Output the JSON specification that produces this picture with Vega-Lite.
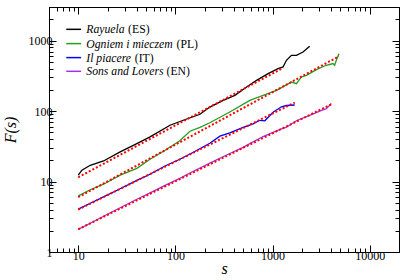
{
  "$schema": "https://vega.github.io/schema/vega-lite/v6.json",
  "width": 350,
  "height": 245,
  "autosize": "none",
  "padding": {"left": 49, "top": 7, "right": 8, "bottom": 28},
  "background": "white",
  "config": {
    "view": {"stroke": "black", "strokeWidth": 1},
    "axis": {
      "domainColor": "black",
      "tickColor": "black",
      "labelColor": "black",
      "titleColor": "black",
      "labelFont": "Liberation Serif",
      "titleFont": "Liberation Serif",
      "labelFontSize": 12,
      "titleFontSize": 16,
      "titleFontStyle": "italic",
      "titleFontWeight": "normal",
      "grid": false,
      "labelOverlap": false,
      "labelBound": false,
      "labelFlush": false
    }
  },
  "datasets": {
    "curves": [
      {"book": "Rayuela", "s": 10, "F": 12.3},
      {"book": "Rayuela", "s": 10.9, "F": 14.5},
      {"book": "Rayuela", "s": 13.3, "F": 17.0},
      {"book": "Rayuela", "s": 18.2, "F": 19.6},
      {"book": "Rayuela", "s": 27.0, "F": 26.3},
      {"book": "Rayuela", "s": 40.1, "F": 34.6},
      {"book": "Rayuela", "s": 54.8, "F": 43.0},
      {"book": "Rayuela", "s": 88.0, "F": 62.9},
      {"book": "Rayuela", "s": 120.6, "F": 74.1},
      {"book": "Rayuela", "s": 179, "F": 90.1},
      {"book": "Rayuela", "s": 226, "F": 114},
      {"book": "Rayuela", "s": 310, "F": 142},
      {"book": "Rayuela", "s": 409, "F": 167},
      {"book": "Rayuela", "s": 540, "F": 220},
      {"book": "Rayuela", "s": 684, "F": 273},
      {"book": "Rayuela", "s": 900, "F": 340},
      {"book": "Rayuela", "s": 1138, "F": 401},
      {"book": "Rayuela", "s": 1282, "F": 423},
      {"book": "Rayuela", "s": 1389, "F": 526},
      {"book": "Rayuela", "s": 1564, "F": 619},
      {"book": "Rayuela", "s": 1759, "F": 619},
      {"book": "Rayuela", "s": 2056, "F": 689},
      {"book": "Rayuela", "s": 2410, "F": 830},
      {"book": "Ogniem", "s": 10, "F": 6.25},
      {"book": "Ogniem", "s": 13.3, "F": 7.65},
      {"book": "Ogniem", "s": 18.2, "F": 9.16},
      {"book": "Ogniem", "s": 27.0, "F": 12.3},
      {"book": "Ogniem", "s": 40.1, "F": 15.4},
      {"book": "Ogniem", "s": 54.8, "F": 20.7},
      {"book": "Ogniem", "s": 78.2, "F": 27.8},
      {"book": "Ogniem", "s": 111, "F": 37.9},
      {"book": "Ogniem", "s": 141, "F": 51.7},
      {"book": "Ogniem", "s": 179, "F": 58.9},
      {"book": "Ogniem", "s": 226, "F": 68.2},
      {"book": "Ogniem", "s": 363, "F": 97.1},
      {"book": "Ogniem", "s": 583, "F": 142},
      {"book": "Ogniem", "s": 799, "F": 167},
      {"book": "Ogniem", "s": 1096, "F": 197},
      {"book": "Ogniem", "s": 1564, "F": 258},
      {"book": "Ogniem", "s": 1759, "F": 245},
      {"book": "Ogniem", "s": 1981, "F": 305},
      {"book": "Ogniem", "s": 2230, "F": 322},
      {"book": "Ogniem", "s": 2823, "F": 388},
      {"book": "Ogniem", "s": 3575, "F": 447},
      {"book": "Ogniem", "s": 4180, "F": 472},
      {"book": "Ogniem", "s": 4350, "F": 447},
      {"book": "Ogniem", "s": 4530, "F": 526},
      {"book": "Ogniem", "s": 4820, "F": 650},
      {"book": "Piacere", "s": 10, "F": 4.05},
      {"book": "Piacere", "s": 13.3, "F": 4.92},
      {"book": "Piacere", "s": 18.2, "F": 6.05},
      {"book": "Piacere", "s": 27.0, "F": 7.91},
      {"book": "Piacere", "s": 40.1, "F": 10.4},
      {"book": "Piacere", "s": 54.8, "F": 12.7},
      {"book": "Piacere", "s": 78.2, "F": 16.6},
      {"book": "Piacere", "s": 111, "F": 20.7},
      {"book": "Piacere", "s": 153, "F": 26.0},
      {"book": "Piacere", "s": 226, "F": 35.0},
      {"book": "Piacere", "s": 287, "F": 44.0},
      {"book": "Piacere", "s": 363, "F": 49.0},
      {"book": "Piacere", "s": 498, "F": 58.9},
      {"book": "Piacere", "s": 630, "F": 66.0},
      {"book": "Piacere", "s": 739, "F": 74.0},
      {"book": "Piacere", "s": 832, "F": 72.8},
      {"book": "Piacere", "s": 1012, "F": 96.2},
      {"book": "Piacere", "s": 1233, "F": 115},
      {"book": "Piacere", "s": 1389, "F": 120},
      {"book": "Piacere", "s": 1690, "F": 122},
      {"book": "Sons", "s": 10, "F": 2.10},
      {"book": "Sons", "s": 13.3, "F": 2.56},
      {"book": "Sons", "s": 18.2, "F": 3.22},
      {"book": "Sons", "s": 27.0, "F": 4.25},
      {"book": "Sons", "s": 40.1, "F": 5.6},
      {"book": "Sons", "s": 54.8, "F": 6.9},
      {"book": "Sons", "s": 78.2, "F": 8.8},
      {"book": "Sons", "s": 111, "F": 11.1},
      {"book": "Sons", "s": 153, "F": 14.0},
      {"book": "Sons", "s": 226, "F": 18.3},
      {"book": "Sons", "s": 363, "F": 25.0},
      {"book": "Sons", "s": 498, "F": 30.5},
      {"book": "Sons", "s": 583, "F": 34.5},
      {"book": "Sons", "s": 799, "F": 43.5},
      {"book": "Sons", "s": 1012, "F": 50.0},
      {"book": "Sons", "s": 1233, "F": 56.0},
      {"book": "Sons", "s": 1389, "F": 59.0},
      {"book": "Sons", "s": 1759, "F": 73.0},
      {"book": "Sons", "s": 2410, "F": 87.1},
      {"book": "Sons", "s": 3055, "F": 100},
      {"book": "Sons", "s": 3575, "F": 108},
      {"book": "Sons", "s": 4030, "F": 128}
    ],
    "fits": [
      {"book": "Rayuela", "s": 10, "F": 11.5},
      {"book": "Rayuela", "s": 1282, "F": 410},
      {"book": "Ogniem", "s": 10, "F": 6.0},
      {"book": "Ogniem", "s": 4820, "F": 599},
      {"book": "Piacere", "s": 10, "F": 4.0},
      {"book": "Piacere", "s": 1690, "F": 132},
      {"book": "Sons", "s": 10, "F": 2.1},
      {"book": "Sons", "s": 4030, "F": 125}
    ],
    "legend": [
      {"book": "Rayuela", "s1": 7.53, "s2": 10.7, "st": 12.1, "sc": 32.6, "y": 1446, "title": "Rayuela", "code": "(ES)"},
      {"book": "Ogniem", "s1": 7.53, "s2": 10.7, "st": 12.1, "sc": 102.6, "y": 907, "title": "Ogniem i mieczem", "code": "(PL)"},
      {"book": "Piacere", "s1": 7.53, "s2": 10.7, "st": 12.1, "sc": 38.2, "y": 574, "title": "Il piacere", "code": "(IT)"},
      {"book": "Sons", "s1": 7.53, "s2": 10.7, "st": 12.1, "sc": 81.0, "y": 367, "title": "Sons and Lovers", "code": "(EN)"}
    ]
  },
  "resolve": {"scale": {"x": "shared", "y": "shared", "color": "shared"}, "axis": {"x": "independent", "y": "independent"}},
  "layer": [
    {
      "data": {"name": "curves"},
      "mark": {"type": "line", "strokeWidth": 1.3},
      "encoding": {
        "x": {
          "field": "s", "type": "quantitative",
          "scale": {"type": "log", "domain": [5, 20000], "nice": false},
          "axis": {
            "orient": "bottom", "title": "s", "titleY": 21.5, "titleBaseline": "alphabetic",
            "values": [6,7,8,9,10,20,30,40,50,60,70,80,90,100,200,300,400,500,600,700,800,900,1000,2000,3000,4000,5000,6000,7000,8000,9000,10000],
            "labelExpr": "indexof([10,100,1000,10000], datum.value) >= 0 ? format(datum.value, 'd') : ''",
            "tickSize": {"condition": {"test": "indexof([10,100,1000,10000], datum.value) >= 0", "value": -7}, "value": -4},
            "labelPadding": 5
          }
        },
        "y": {
          "field": "F", "type": "quantitative",
          "scale": {"type": "log", "domain": [1, 3000], "nice": false},
          "axis": {
            "orient": "left", "title": "F(s)", "titleX": -31,
            "values": [1,2,3,4,5,6,7,8,9,10,20,30,40,50,60,70,80,90,100,200,300,400,500,600,700,800,900,1000,2000],
            "labelExpr": "indexof([1,10,100,1000], datum.value) >= 0 ? format(datum.value, 'd') : ''",
            "tickSize": {"condition": {"test": "indexof([1,10,100,1000], datum.value) >= 0", "value": -7}, "value": -4},
            "labelPadding": 4
          }
        },
        "color": {
          "field": "book", "type": "nominal",
          "scale": {"domain": ["Rayuela", "Ogniem", "Piacere", "Sons"], "range": ["#000000", "#1f9f1f", "#0000ff", "#a030f0"]},
          "legend": null
        }
      }
    },
    {
      "data": {"name": "fits"},
      "mark": {"type": "line", "color": "#ff0000", "strokeWidth": 2, "strokeDash": [2, 2]},
      "encoding": {
        "x": {
          "field": "s", "type": "quantitative",
          "axis": {
            "orient": "top", "title": null, "labels": false,
            "values": [6,7,8,9,10,20,30,40,50,60,70,80,90,100,200,300,400,500,600,700,800,900,1000,2000,3000,4000,5000,6000,7000,8000,9000,10000],
            "tickSize": {"condition": {"test": "indexof([10,100,1000,10000], datum.value) >= 0", "value": -7}, "value": -4}
          }
        },
        "y": {
          "field": "F", "type": "quantitative",
          "axis": {
            "orient": "right", "title": null, "labels": false,
            "values": [1,2,3,4,5,6,7,8,9,10,20,30,40,50,60,70,80,90,100,200,300,400,500,600,700,800,900,1000,2000],
            "tickSize": {"condition": {"test": "indexof([1,10,100,1000], datum.value) >= 0", "value": -7}, "value": -4}
          }
        },
        "detail": {"field": "book", "type": "nominal"}
      }
    },
    {
      "data": {"name": "legend"},
      "mark": {"type": "rule", "strokeWidth": 1.5},
      "encoding": {
        "x": {"field": "s1", "type": "quantitative", "axis": null},
        "x2": {"field": "s2"},
        "y": {"field": "y", "type": "quantitative", "axis": null},
        "color": {"field": "book", "type": "nominal", "legend": null}
      }
    },
    {
      "data": {"name": "legend"},
      "mark": {"type": "text", "align": "left", "baseline": "middle", "font": "Liberation Serif", "fontSize": 11.7, "fontStyle": "italic", "color": "black"},
      "encoding": {
        "x": {"field": "st", "type": "quantitative", "axis": null},
        "y": {"field": "y", "type": "quantitative", "axis": null},
        "text": {"field": "title"}
      }
    },
    {
      "data": {"name": "legend"},
      "mark": {"type": "text", "align": "left", "baseline": "middle", "font": "Liberation Serif", "fontSize": 11.7, "color": "black"},
      "encoding": {
        "x": {"field": "sc", "type": "quantitative", "axis": null},
        "y": {"field": "y", "type": "quantitative", "axis": null},
        "text": {"field": "code"}
      }
    }
  ]
}
